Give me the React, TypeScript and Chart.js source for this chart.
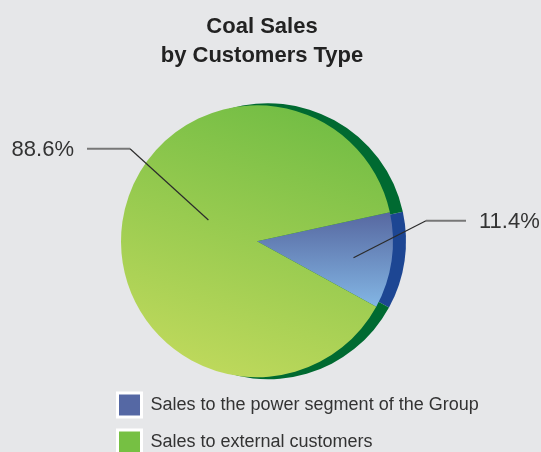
import React, { useEffect, useRef } from "react";
import { Chart, registerables } from "chart.js";

Chart.register(...registerables);

// ---- data ----
const categories = [
  "Sales to the power segment of the Group",
  "Sales to external customers",
];
const shares = [11.4, 88.6];
const titleLines = ["Coal Sales", "by Customers Type"];

// ---- style ----
const BG = "#e6e7e9";
const faceTop = ["#55659e", "#72bd44"];
const faceBottom = ["#84b8e6", "#bfd95c"];
const rimColors = ["#1d4693", "#006a31"];
const legendColors = ["#5568a4", "#76c043"];
const SANS = "'Liberation Sans', Arial, sans-serif";
const PIE_R = 136;
const RIM_DX = 11;
const RIM_EXTRA = 2;

// leader line geometry (relative to pie centre / radius)
const leaders = [
  { angleAdj: 1.5, rFrac: 0.72, elbowDx: 169, elbowDy: -20.5, endDx: 209, side: "right" },
  { angleAdj: 15.4, rFrac: 0.39, elbowDx: -127, elbowDy: -92.5, endDx: -170, side: "left" },
];

const rimPlugin = {
  id: "rim",
  beforeDatasetsDraw(chart: any) {
    const meta = chart.getDatasetMeta(0);
    const ctx = chart.ctx;
    meta.data.forEach((arc: any, i: number) => {
      const { x, y, startAngle, endAngle, outerRadius } = arc.getProps(
        ["x", "y", "startAngle", "endAngle", "outerRadius"],
        true
      );
      ctx.save();
      ctx.beginPath();
      ctx.moveTo(x + RIM_DX, y);
      ctx.arc(x + RIM_DX, y, outerRadius + RIM_EXTRA, startAngle, endAngle);
      ctx.closePath();
      ctx.fillStyle = rimColors[i];
      ctx.fill();
      ctx.restore();
    });
  },
};

const leaderPlugin = {
  id: "leaders",
  afterDatasetsDraw(chart: any) {
    const meta = chart.getDatasetMeta(0);
    const ctx = chart.ctx;
    meta.data.forEach((arc: any, i: number) => {
      const { x, y, startAngle, endAngle, outerRadius } = arc.getProps(
        ["x", "y", "startAngle", "endAngle", "outerRadius"],
        true
      );
      const L = leaders[i];
      const a = (startAngle + endAngle) / 2 + (L.angleAdj * Math.PI) / 180;
      const ax = x + Math.cos(a) * outerRadius * L.rFrac;
      const ay = y + Math.sin(a) * outerRadius * L.rFrac;
      const ex = x + L.elbowDx;
      const ey = y + L.elbowDy;
      const hx = x + L.endDx;
      ctx.save();
      ctx.beginPath();
      ctx.moveTo(ax, ay);
      ctx.lineTo(ex, ey);
      ctx.strokeStyle = "#2b2b2b";
      ctx.lineWidth = 1.2;
      ctx.stroke();
      ctx.beginPath();
      ctx.moveTo(ex, ey);
      ctx.lineTo(hx, ey);
      ctx.strokeStyle = "#777777";
      ctx.lineWidth = 2;
      ctx.stroke();
      const value = chart.data.datasets[0].data[i] as number;
      ctx.font = `22px ${SANS}`;
      ctx.fillStyle = "#333333";
      ctx.textBaseline = "middle";
      if (L.side === "right") {
        ctx.textAlign = "left";
        ctx.fillText(`${value.toFixed(1)}%`, hx + 13, ey + 1.5);
      } else {
        ctx.textAlign = "right";
        ctx.fillText(`${value.toFixed(1)}%`, hx - 13, ey + 1.5);
      }
      ctx.restore();
    });
  },
};

const shiftPlugin = {
  id: "shiftBoxes",
  afterLayout(chart: any) {
    if (chart.legend) {
      chart.legend.left += 104.5;
      chart.legend.right += 104.5;
    }
    if (chart.titleBlock) {
      chart.titleBlock.left += 5;
      chart.titleBlock.right += 5;
    }
  },
};

export default function App() {
  const ref = useRef<HTMLCanvasElement | null>(null);

  useEffect(() => {
    if (!ref.current) return;
    const chart = new Chart(ref.current, {
      type: "pie",
      data: {
        labels: categories,
        datasets: [
          {
            data: shares,
            borderWidth: 0,
            hoverOffset: 0,
            radius: PIE_R,
            backgroundColor: (c: any) => {
              const ch = c.chart;
              const area = ch.chartArea;
              const i = c.dataIndex;
              if (!area) return legendColors[i];
              const cx = (area.left + area.right) / 2;
              const cy = (area.top + area.bottom) / 2;
              const g =
                i === 0
                  ? ch.ctx.createLinearGradient(cx, cy - 32, cx, cy + 68)
                  : ch.ctx.createLinearGradient(
                      cx + 0.35 * PIE_R,
                      cy - PIE_R,
                      cx - 0.35 * PIE_R,
                      cy + PIE_R
                    );
              g.addColorStop(0, faceTop[i]);
              g.addColorStop(1, faceBottom[i]);
              return g;
            },
          } as any,
        ],
      },
      options: {
        animation: false,
        responsive: false,
        rotation: 77.7,
        layout: { padding: { left: 0, right: 27, top: 0, bottom: 0 } },
        plugins: {
          tooltip: { enabled: false },
          title: {
            display: true,
            text: titleLines,
            color: "#222222",
            font: { family: SANS, size: 22, weight: "bold", lineHeight: 29 / 22 },
            padding: { top: 12, bottom: 32.5 },
          },
          legend: {
            display: true,
            position: "bottom",
            align: "start",
            labels: {
              boxWidth: 24,
              boxHeight: 24,
              padding: 13,
              color: "#333333",
              font: { family: SANS, size: 18 },
              generateLabels: () =>
                categories.map((t, i) => ({
                  text: t,
                  fillStyle: legendColors[i],
                  strokeStyle: "#ffffff",
                  lineWidth: 3,
                  fontColor: "#333333",
                  hidden: false,
                  index: i,
                })),
            },
          },
        },
      } as any,
      plugins: [shiftPlugin, rimPlugin, leaderPlugin],
    });
    return () => chart.destroy();
  }, []);

  return (
    <div
      style={{
        position: "fixed",
        left: 0,
        top: 0,
        width: 541,
        height: 452,
        overflow: "hidden",
        background: BG,
      }}
    >
      <canvas ref={ref} width={541} height={464} style={{ width: 541, height: 464, display: "block" }} />
    </div>
  );
}
